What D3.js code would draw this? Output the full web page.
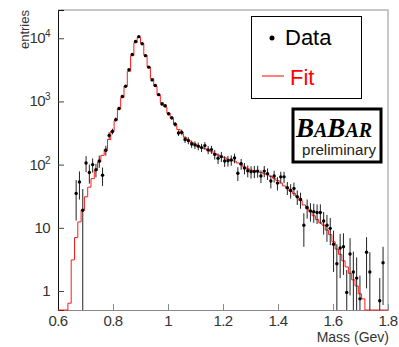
<!DOCTYPE html>
<html>
<head>
<meta charset="utf-8">
<script src="https://cdn.jsdelivr.net/npm/d3@7/dist/d3.min.js"></script>
<style>
  body { margin: 0; background: #fff; }
  svg { font-family: "Liberation Sans", Arial, sans-serif; }
</style>
</head>
<body>
<div id="chart"></div>
<script>
// 100 bins from 0.6 to 1.8 GeV
const binLow = 0.6;
const binWidth = 0.012;

// data points (0 = empty bin)
const dataValues = [
  0, 0, 0, 0, 0, 35, 53, 19, 106, 75,
  100, 83, 114, 68, 169, 290, 335, 516, 775, 1200,
  1740, 3170, 5540, 8900, 10600, 8200, 5300, 3490, 2190, 1790,
  1280, 910, 855, 640, 550, 435, 316, 324, 250, 240,
  212, 205, 196, 186, 200, 171, 173, 145, 126, 134,
  114, 115, 118, 127, 73, 103, 88, 80, 77, 78,
  79, 66, 79, 72, 55, 66, 51, 64, 64, 43,
  39, 42, 31, 28, 11, 21, 18.5, 18, 17.5, 17.5,
  12.8, 11, 9.8, 5.5, 2.7, 4.8, 5, 0.95, 3.85, 2,
  1.6, 0.75, 0, 4.1, 2, 0, 0, 0.7, 2.8, 0
];

const dataErrors = [
  0, 0, 0, 0, 0, 22, 25, 22, 30, 25,
  25, 20, 25, 22, 30, 35, 35, 40, 50, 60,
  70, 90, 120, 150, 170, 150, 120, 90, 70, 60,
  50, 45, 45, 40, 38, 35, 32, 32, 30, 30,
  28, 28, 27, 27, 27, 25, 25, 25, 24, 24,
  22, 22, 22, 22, 18, 20, 18, 17, 17, 17,
  17, 15, 16, 15, 13, 14, 12, 13, 13, 10,
  10, 10, 8, 8, 6, 7, 6, 6, 6, 6,
  5, 5, 4.5, 3.5, 2.8, 3.2, 3.2, 1.2, 3, 2.2,
  1.8, 1, 0, 3, 2.1, 0, 0, 0.9, 2.2, 0
];

// fitted histogram
const fitValues = [
  0, 0, 0, 0.64, 3.1, 7, 12.4, 19, 31, 44,
  60, 81, 110, 140, 175, 250, 340, 500, 760, 1150,
  1750, 3000, 5300, 8500, 10300, 8300, 5400, 3500, 2300, 1750,
  1280, 950, 820, 650, 540, 440, 360, 310, 270, 245,
  225, 210, 198, 187, 178, 168, 160, 150, 142, 135,
  128, 122, 116, 114, 106, 99, 92, 86, 82, 79,
  77, 75, 72, 69, 65, 61, 56, 51, 46, 42,
  38, 35, 31, 27, 23, 20, 18, 15.5, 13.5, 12,
  11, 9.2, 7.8, 6, 4.6, 3.8, 3, 2.4, 1.9, 1.5,
  1.2, 0.9, 0.75, 0, 0, 0, 0, 0, 0, 0
];

const xTicks = [0.6, 0.8, 1, 1.2, 1.4, 1.6, 1.8];
const yTickExps = [0, 1, 2, 3, 4];

const width = 399;
const height = 347;
const yMin = 0.5;

const svg = d3
  .select('#chart')
  .append('svg')
  .attr('width', width)
  .attr('height', height);

const x = d3.scaleLinear().domain([0.6, 1.8]).range([58, 388]);
const y = d3.scaleLog().domain([yMin, 28000]).range([310, 10]);
const yc = (v) => y(Math.max(v, yMin));

const bins = dataValues.map((v, i) => ({
  center: binLow + binWidth * (i + 0.5),
  edge: binLow + binWidth * i,
  value: v,
  err: dataErrors[i],
  fit: fitValues[i],
}));

// frame (top + right)
svg
  .append('path')
  .attr('d', `M${x(0.6)},${y.range()[1]}H${x(1.8)}V${y.range()[0]}`)
  .attr('fill', 'none')
  .attr('stroke', '#b4b4b4')
  .attr('stroke-width', 1.5);

// x axis
const xAxisG = svg.append('g').attr('transform', `translate(0,${y.range()[0]})`);
xAxisG.call(
  d3.axisBottom(x).tickValues(d3.range(0.6, 1.8001, 0.05)).tickSize(-3).tickFormat('')
);
xAxisG.call(d3.axisBottom(x).tickValues(xTicks).tickSize(-6).tickFormat(''));
xAxisG.selectAll('path, line').attr('stroke', '#8a8a8a');

svg
  .selectAll('text.xlab')
  .data(xTicks)
  .enter()
  .append('text')
  .attr('class', 'xlab')
  .attr('x', (d) => x(d))
  .attr('y', 326)
  .attr('text-anchor', 'middle')
  .attr('font-size', 15)
  .attr('letter-spacing', -0.6)
  .attr('fill', '#333')
  .text((d) => d3.format('~g')(d));

// y axis
const minorY = [];
for (let e = -1; e <= 4; e++) {
  for (let m = 2; m <= 9; m++) {
    const v = m * Math.pow(10, e);
    if (v >= yMin && v <= 28000) minorY.push(v);
  }
}
const yAxisG = svg.append('g').attr('transform', `translate(${x.range()[0]},0)`);
yAxisG.call(d3.axisLeft(y).tickValues(minorY).tickSize(-3).tickFormat(''));
yAxisG.call(
  d3.axisLeft(y).tickValues(yTickExps.map((e) => Math.pow(10, e))).tickSize(-6).tickFormat('')
);
yAxisG.selectAll('line').attr('stroke', '#444');
yAxisG.selectAll('path').attr('stroke', '#111');

const ylab = svg
  .selectAll('text.ylab')
  .data(yTickExps)
  .enter()
  .append('text')
  .attr('class', 'ylab')
  .attr('x', 50)
  .attr('y', (d) => y(Math.pow(10, d)) + 5)
  .attr('text-anchor', 'end')
  .attr('font-size', 15)
  .attr('letter-spacing', -0.6)
  .attr('fill', '#333');
ylab.each(function (d) {
  const t = d3.select(this);
  if (d === 0) t.text('1');
  else if (d === 1) t.text('10');
  else {
    t.append('tspan').text('10');
    t.append('tspan').attr('font-size', 10).attr('dy', -6).text(d);
  }
});

// axis titles
svg
  .append('text')
  .attr('transform', 'translate(29,10) rotate(-90)')
  .attr('text-anchor', 'end')
  .attr('font-size', 13)
  .attr('fill', '#333')
  .text('entries');

svg
  .append('text')
  .attr('x', 389)
  .attr('y', 342)
  .attr('text-anchor', 'end')
  .attr('font-size', 14)
  .attr('fill', '#333')
  .text('Mass (Gev)');

// fit histogram (step)
const stepPts = bins.map((b) => [b.edge, b.fit]);
stepPts.push([1.8, fitValues[fitValues.length - 1]]);
svg
  .append('path')
  .datum(stepPts)
  .attr('fill', 'none')
  .attr('stroke', '#ff1a1a')
  .attr('stroke-width', 1)
  .attr(
    'd',
    d3
      .line()
      .x((d) => x(d[0]))
      .y((d) => yc(d[1]))
      .curve(d3.curveStepAfter)
  );

// data points with error bars
const pts = svg
  .selectAll('g.pt')
  .data(bins.filter((b) => b.value > 0))
  .enter()
  .append('g')
  .attr('class', 'pt');

pts
  .append('line')
  .attr('x1', (d) => x(d.center))
  .attr('x2', (d) => x(d.center))
  .attr('y1', (d) => yc(d.value + d.err))
  .attr('y2', (d) => yc(d.value - d.err))
  .attr('stroke', '#222')
  .attr('stroke-width', 1);

pts
  .append('circle')
  .attr('cx', (d) => x(d.center))
  .attr('cy', (d) => y(d.value))
  .attr('r', 1.7)
  .attr('fill', '#000');

// legend
const legend = svg.append('g');
legend
  .append('rect')
  .attr('x', 251.5)
  .attr('y', 16.5)
  .attr('width', 110)
  .attr('height', 82)
  .attr('fill', '#fff')
  .attr('stroke', '#000')
  .attr('stroke-width', 1);
legend
  .append('circle')
  .attr('cx', 272)
  .attr('cy', 38)
  .attr('r', 2.5)
  .attr('fill', '#000');
legend
  .append('text')
  .attr('x', 285)
  .attr('y', 45)
  .attr('font-size', 22)
  .attr('fill', '#000')
  .text('Data');
legend
  .append('line')
  .attr('x1', 262)
  .attr('x2', 284)
  .attr('y1', 76)
  .attr('y2', 76)
  .attr('stroke', '#ff0000')
  .attr('stroke-width', 1);
legend
  .append('text')
  .attr('x', 290)
  .attr('y', 85)
  .attr('font-size', 22)
  .attr('fill', '#ff0000')
  .text('Fit');

// BaBar logo
const logo = svg.append('g');
logo
  .append('rect')
  .attr('x', 293)
  .attr('y', 109)
  .attr('width', 88)
  .attr('height', 53)
  .attr('fill', '#fff')
  .attr('stroke', '#000')
  .attr('stroke-width', 3);
const babar = logo
  .append('text')
  .attr('x', 296)
  .attr('y', 137)
  .style('font-family', '"Liberation Serif", "DejaVu Serif", serif')
  .attr('font-style', 'italic')
  .attr('font-weight', 'bold')
  .attr('fill', '#000');
babar.append('tspan').attr('font-size', 27).text('B');
babar.append('tspan').attr('font-size', 20).text('A');
babar.append('tspan').attr('font-size', 27).text('B');
babar.append('tspan').attr('font-size', 20).text('AR');
logo
  .append('text')
  .attr('x', 302)
  .attr('y', 155)
  .attr('font-size', 14)
  .attr('textLength', 74)
  .attr('lengthAdjust', 'spacingAndGlyphs')
  .attr('fill', '#222')
  .text('preliminary');
</script>
</body>
</html>
